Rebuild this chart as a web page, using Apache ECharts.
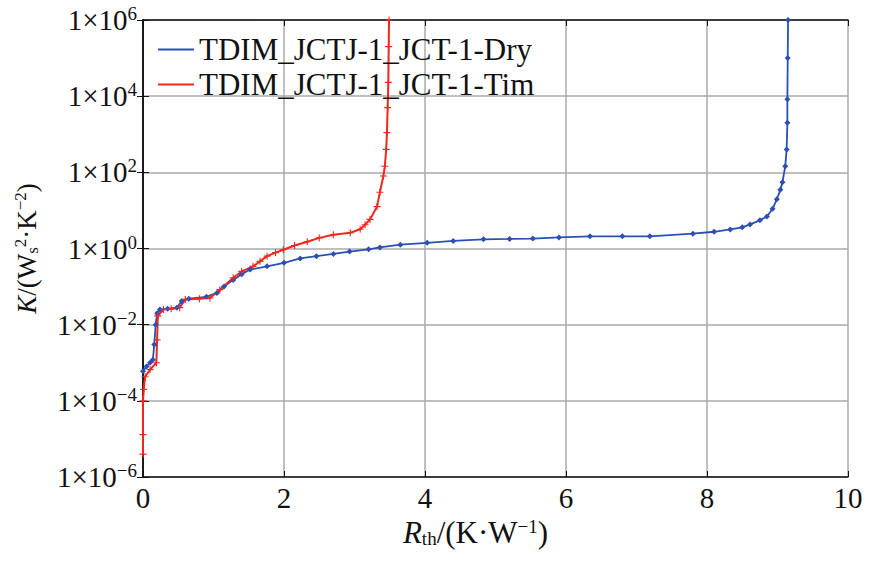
<!DOCTYPE html>
<html>
<head>
<meta charset="utf-8">
<script src="https://cdn.jsdelivr.net/npm/echarts@6/dist/echarts.min.js"></script>
<style>
  html, body { margin: 0; padding: 0; background: #fff; }
  #chart { width: 869px; height: 564px; }
</style>
</head>
<body>
<div id="chart"></div>
<script>
(function() {
  var font = 'Liberation Serif';
  var blue = '#2c4fb3';
  var red = '#f0281e';
  var gridGray = '#aaaaaa';

  // --- data: Rth (K/W) vs K (Ws^2/K^2) ---
  var dryX = [0.00, 0.05, 0.10, 0.14, 0.16, 0.18, 0.20, 0.24, 0.35, 0.48, 0.55, 0.65, 0.90, 1.05, 1.15,
    1.28, 1.40, 1.52, 1.76, 2.00, 2.23, 2.46, 2.70, 2.93, 3.20, 3.36, 3.65, 4.03, 4.40, 4.83, 5.20,
    5.53, 5.90, 6.34, 6.80, 7.19, 7.80, 8.10, 8.33, 8.50, 8.61, 8.75, 8.85, 8.93, 8.99, 9.04, 9.07,
    9.11, 9.13, 9.14, 9.14, 9.145, 9.15];
  var dryK = [6e-4, 8e-4, 1.0e-3, 1.2e-3, 3e-3, 1e-2, 2e-2, 2.5e-2, 2.6e-2, 2.8e-2, 4.2e-2, 4.8e-2, 5.4e-2, 6.8e-2, 1.0e-1,
    1.5e-1, 2.1e-1, 2.8e-1, 3.4e-1, 4.2e-1, 5.5e-1, 6.3e-1, 7.2e-1, 8.3e-1, 9.5e-1, 1.07, 1.26, 1.41, 1.58, 1.74, 1.78,
    1.82, 1.95, 2.09, 2.09, 2.09, 2.45, 2.75, 3.16, 3.6, 4.3, 5.5, 6.9, 11, 19.5, 35, 55,
    145, 400, 2e3, 8.3e3, 1e5, 1e6];

  var timX = [0.00, 0.00, 0.00, 0.01, 0.03, 0.10, 0.19, 0.20, 0.21, 0.29, 0.40, 0.52, 0.60, 0.80, 0.95,
    1.09, 1.28, 1.40, 1.56, 1.66, 1.76, 1.88, 1.99, 2.15, 2.33, 2.50, 2.70, 2.94, 3.08, 3.15, 3.22,
    3.32, 3.36, 3.41, 3.43, 3.45, 3.46, 3.47, 3.48, 3.485, 3.49];
  var timK = [4e-6, 1.3e-5, 1e-4, 2e-4, 4.3e-4, 6.6e-4, 1e-3, 4e-3, 1.7e-2, 2.5e-2, 2.6e-2, 2.8e-2, 4.6e-2, 4.8e-2, 5e-2,
    8.3e-2, 1.7e-1, 2.5e-1, 3.4e-1, 4.6e-1, 6.3e-1, 7.8e-1, 9.3e-1, 1.2, 1.5, 1.9, 2.3, 2.6, 3.2, 4.2, 5.8,
    12.6, 30, 80, 145, 400, 1.1e3, 5e3, 2.3e4, 2e5, 1e6];

  var seriesNames = ['TDIM_JCTJ-1_JCT-1-Dry', 'TDIM_JCTJ-1_JCT-1-Tim'];

  function pairs(xs, ys) {
    var out = [];
    for (var i = 0; i < xs.length; i++) out.push([xs[i], ys[i]]);
    return out;
  }

  function expLabel(v) {
    var e = Math.round(Math.log10(v));
    return '{b|1×10}{s|' + (e < 0 ? '−' + (-e) : e) + '}';
  }

  var labelRich = {
    b: { fontFamily: font, fontSize: 29, color: '#111' },
    s: { fontFamily: font, fontSize: 19, color: '#111', padding: [0, 0, 13, 0] }
  };
  function nameRich(size) {
    return {
      n: { fontFamily: font, fontSize: size, color: '#111' },
      i: { fontFamily: font, fontSize: size, color: '#111', fontStyle: 'italic' },
      sub: { fontFamily: font, fontSize: Math.round(size * 0.62), color: '#111', padding: [11, 0, 0, 0] },
      sup: { fontFamily: font, fontSize: Math.round(size * 0.62), color: '#111', padding: [0, 0, 13, 0] }
    };
  }
  var plus = 'path://M0,2.1H5V2.9H0Z M2.1,0H2.9V5H2.1Z';

  var chart = echarts.init(document.getElementById('chart'), null, { renderer: 'svg' });
  chart.setOption({
    animation: false,
    backgroundColor: '#fff',
    grid: { left: 143, right: 21, top: 20, bottom: 87 },
    legend: {
      orient: 'vertical', left: 153, top: 29, itemGap: 4,
      itemWidth: 36, itemHeight: 2, icon: 'rect',
      textStyle: { fontFamily: font, fontSize: 31, color: '#111', lineHeight: 31 },
      data: seriesNames
    },
    xAxis: [{
      type: 'value', min: 0, max: 10, interval: 2,
      name: '{i|R}{sub|th}{n|/(K·W}{sup|−1}{n|)}', nameLocation: 'middle', nameGap: 38,
      nameTextStyle: { rich: nameRich(31), padding: [0, 40, 0, 0] },
      axisLine: { lineStyle: { color: '#111', width: 1.5 } },
      axisTick: { inside: true, length: 6, lineStyle: { color: '#111' } },
      axisLabel: { fontFamily: font, fontSize: 29, color: '#111', margin: 6 },
      splitLine: { lineStyle: { color: gridGray, width: 1.5 } }
    }, {
      type: 'value', position: 'top', min: 0, max: 10, interval: 2,
      axisLine: { lineStyle: { color: '#111', width: 1.5 } },
      axisTick: { inside: true, length: 6, lineStyle: { color: '#111' } },
      axisLabel: { show: false }, splitLine: { show: false }
    }],
    yAxis: [{
      type: 'log', logBase: 10, min: 1e-6, max: 1e6, interval: 2,
      name: '{i|K}{n|/(W}{sub|s}{sup|2}{n|·K}{sup|−2}{n|)}', nameLocation: 'middle', nameGap: 101,
      nameRotate: 90,
      nameTextStyle: { rich: nameRich(27) },
      axisLine: { show: true, lineStyle: { color: '#111', width: 1.5 } },
      axisTick: { inside: true, length: 6, lineStyle: { color: '#111' } },
      axisLabel: { formatter: expLabel, rich: labelRich, margin: 6 },
      splitLine: { lineStyle: { color: gridGray, width: 1.5 } },
      minorTick: { show: false }
    }, {
      type: 'log', logBase: 10, min: 1e-6, max: 1e6, interval: 2, position: 'right',
      axisLine: { show: true, lineStyle: { color: '#111', width: 1.5 } },
      axisTick: { inside: true, length: 6, lineStyle: { color: '#111' } },
      axisLabel: { show: false }, splitLine: { show: false }
    }],
    series: [{
      name: seriesNames[0], type: 'line', data: pairs(dryX, dryK),
      symbol: 'diamond', symbolSize: 6, showSymbol: true,
      lineStyle: { color: blue, width: 1.8 }, itemStyle: { color: blue }
    }, {
      name: seriesNames[1], type: 'line', data: pairs(timX, timK),
      symbol: plus, symbolSize: 7, showSymbol: true,
      lineStyle: { color: red, width: 2 }, itemStyle: { color: red }
    }]
  });
  window.addEventListener('resize', function() { chart.resize(); });
})();
</script>
</body>
</html>
